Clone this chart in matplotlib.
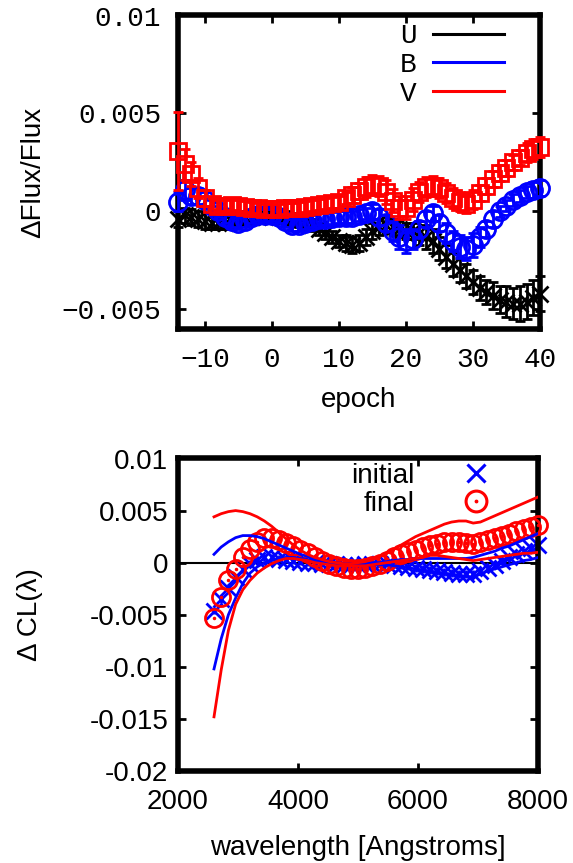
import numpy as np
import matplotlib
matplotlib.use("Agg")
import matplotlib.pyplot as plt
from matplotlib.lines import Line2D

# ---- top panel data: residual light curves (units of 1e-3) ----
epoch = np.arange(-14, 41)

U = [-0.4, -0.2, -0.3, -0.4, -0.5, -0.6, -0.6, -0.6, -0.5, -0.4, -0.3, -0.3, -0.3, -0.3,
     -0.2, -0.2, -0.3, -0.4, -0.5, -0.6, -0.7, -0.9, -1.1, -1.3, -1.5, -1.6, -1.7, -1.6,
     -1.3, -1.0, -0.8, -0.7, -0.8, -0.9, -1.0, -1.0, -1.1, -1.3, -1.5, -1.9, -2.3, -2.7,
     -3.0, -3.3, -3.6, -3.9, -4.1, -4.3, -4.5, -4.6, -4.7, -4.7, -4.6, -4.4, -4.2]
U_err = [0.4, 0.4, 0.4, 0.4, 0.4, 0.3, 0.3, 0.3, 0.3, 0.3, 0.3, 0.3, 0.3, 0.3,
         0.3, 0.3, 0.3, 0.3, 0.3, 0.3, 0.3, 0.3, 0.3, 0.3, 0.3, 0.4, 0.4, 0.4,
         0.4, 0.4, 0.4, 0.4, 0.4, 0.4, 0.4, 0.4, 0.6, 0.6, 0.6, 0.6, 0.6, 0.6,
         0.6, 0.6, 0.6, 0.6, 0.6, 0.7, 0.7, 0.8, 0.8, 0.9, 0.9, 0.9, 0.9]

B = [0.5, 1.1, 0.8, 0.8, 0.6, 0.3, 0.0, -0.3, -0.5, -0.6, -0.5, -0.3, -0.2, -0.2,
     -0.2, -0.3, -0.5, -0.7, -0.7, -0.6, -0.5, -0.4, -0.4, -0.35, -0.3, -0.3, -0.3, -0.2,
     -0.1, 0.0, -0.3, -0.6, -1.0, -1.3, -1.5, -1.4, -0.9, -0.4, -0.1, -0.6, -1.1, -1.5,
     -1.8, -1.9, -1.7, -1.3, -0.9, -0.4, 0.0, 0.3, 0.6, 0.8, 1.0, 1.1, 1.2]
B_err = [0.5, 0.5, 0.4, 0.4, 0.4, 0.3, 0.3, 0.3, 0.3, 0.3, 0.3, 0.3, 0.3, 0.3,
         0.3, 0.3, 0.3, 0.3, 0.3, 0.3, 0.3, 0.3, 0.3, 0.3, 0.3, 0.3, 0.3, 0.3,
         0.3, 0.4, 0.4, 0.4, 0.5, 0.6, 0.6, 0.5, 0.4, 0.4, 0.4, 0.4, 0.5, 0.5,
         0.6, 0.6, 0.6, 0.5, 0.4, 0.4, 0.3, 0.3, 0.3, 0.3, 0.3, 0.4, 0.4]

V = [3.1, 2.4, 1.9, 1.2, 0.7, 0.4, 0.3, 0.3, 0.35, 0.3, 0.25, 0.2, 0.15, 0.1,
     0.1, 0.1, 0.15, 0.15, 0.2, 0.25, 0.3, 0.35, 0.4, 0.45, 0.5, 0.7, 0.85, 1.05,
     1.25, 1.35, 1.3, 1.0, 0.55, 0.2, 0.2, 0.6, 1.0, 1.25, 1.3, 1.2, 0.95, 0.7,
     0.5, 0.4, 0.6, 0.95, 1.3, 1.65, 1.95, 2.2, 2.5, 2.75, 3.0, 3.2, 3.3]
V_err = [2.0, 0.8, 0.6, 0.5, 0.4, 0.3, 0.3, 0.3, 0.3, 0.3, 0.3, 0.3, 0.3, 0.3,
         0.3, 0.3, 0.3, 0.3, 0.3, 0.3, 0.3, 0.3, 0.3, 0.3, 0.3, 0.3, 0.4, 0.4,
         0.5, 0.5, 0.5, 0.6, 0.6, 0.6, 0.6, 0.6, 0.5, 0.5, 0.5, 0.5, 0.5, 0.5,
         0.5, 0.5, 0.5, 0.4, 0.4, 0.4, 0.4, 0.4, 0.4, 0.4, 0.5, 0.5, 0.5]

top_yticks = [-0.005, 0, 0.005, 0.01]
top_yticklabels = ["\u22120.005", "0", "0.005", "0.01"]
top_xticks = [-10, 0, 10, 20, 30, 40]
top_xticklabels = ["\u221210", "0", "10", "20", "30", "40"]

# ---- bottom panel data: color law change (units of 1e-3) ----
wave = np.arange(2600, 8001, 120)

initial = [-4.6, -3.5, -2.4, -1.4, -0.6, -0.1, 0.3, 0.5, 0.5, 0.4, 0.3, 0.2, 0.1, 0.0,
           0.0, -0.1, -0.1, -0.1, -0.2, -0.2, -0.2, -0.1, -0.1, -0.1, -0.1, -0.2, -0.3, -0.4,
           -0.5, -0.6, -0.7, -0.8, -0.9, -1.0, -1.1, -1.1, -1.1, -0.8, -0.5, -0.2, 0.2, 0.5,
           0.8, 1.1, 1.4, 1.7]
final = [-5.3, -3.3, -1.7, -0.6, 0.5, 1.3, 2.0, 2.4, 2.4, 2.2, 1.9, 1.6, 1.2, 0.9,
         0.5, 0.2, -0.1, -0.3, -0.5, -0.6, -0.6, -0.5, -0.3, -0.1, 0.2, 0.5, 0.8, 1.0,
         1.2, 1.5, 1.7, 1.8, 2.0, 2.0, 2.0, 1.9, 1.8, 2.0, 2.2, 2.4, 2.6, 2.8,
         3.0, 3.2, 3.4, 3.6]
blue_hi = [0.8, 1.5, 2.0, 2.4, 2.6, 2.6, 2.5, 2.3, 2.0, 1.7, 1.4, 1.1, 0.8, 0.6,
           0.4, 0.2, 0.1, 0.0, -0.1, -0.1, -0.1, -0.1, 0.0, 0.0, 0.1, 0.2, 0.3, 0.3,
           0.4, 0.4, 0.4, 0.4, 0.4, 0.4, 0.4, 0.4, 0.5, 0.7, 0.9, 1.1, 1.4, 1.6,
           1.9, 2.2, 2.5, 2.8]
blue_lo = [-10.2, -7.3, -5.0, -3.4, -2.0, -1.0, -0.4, 0.0, 0.2, 0.4, 0.5, 0.5, 0.4, 0.3,
           0.2, 0.1, 0.0, -0.1, -0.2, -0.2, -0.2, -0.2, -0.2, -0.2, -0.2, -0.3, -0.4, -0.5,
           -0.6, -0.7, -0.8, -0.9, -1.0, -1.1, -1.2, -1.3, -1.4, -1.1, -0.8, -0.6, -0.4, -0.2,
           0.0, 0.2, 0.3, 0.5]
red_hi = [4.4, 4.7, 4.9, 5.0, 4.9, 4.7, 4.4, 4.0, 3.5, 2.9, 2.3, 1.7, 1.2, 0.8,
          0.5, 0.3, 0.1, 0.0, -0.1, -0.1, 0.0, 0.1, 0.3, 0.6, 0.9, 1.3, 1.7, 2.1,
          2.5, 2.8, 3.1, 3.4, 3.7, 3.9, 4.0, 4.0, 3.8, 3.9, 4.2, 4.5, 4.8, 5.1,
          5.4, 5.7, 6.0, 6.3]
red_lo = [-14.8, -10.3, -6.5, -4.0, -2.6, -1.7, -1.0, -0.5, -0.1, 0.2, 0.4, 0.4, 0.3, 0.2,
          0.0, -0.1, -0.2, -0.3, -0.3, -0.3, -0.3, -0.3, -0.2, -0.1, 0.0, 0.1, 0.2, 0.3,
          0.4, 0.5, 0.7, 0.7, 0.6, 0.5, 0.4, 0.3, 0.2, 0.3, 0.4, 0.5, 0.6, 0.7,
          0.8, 0.9, 0.9, 1.0]

bot_yticks = [-0.02, -0.015, -0.01, -0.005, 0, 0.005, 0.01]
bot_yticklabels = ["-0.02", "-0.015", "-0.01", "-0.005", "0", "0.005", "0.01"]
bot_xticks = [2000, 4000, 6000, 8000]
bot_xticklabels = ["2000", "4000", "6000", "8000"]

sans = "Liberation Sans"
mono = "Liberation Mono"
plt.rcParams["font.family"] = sans

W, H = 573, 863
fig = plt.figure(figsize=(W / 100, H / 100), dpi=100)
ax1 = fig.add_axes([178 / W, 1 - 329 / H, 362 / W, 313.5 / H])
ax2 = fig.add_axes([178 / W, 1 - 771 / H, 360 / W, 312.5 / H])

def style(ax, xpad, ypad):
    for s in ax.spines.values():
        s.set_linewidth(4)
    ax.tick_params(direction="in", top=True, right=True, length=6, width=2, labelsize=20)
    ax.tick_params(axis="x", pad=xpad)
    ax.tick_params(axis="y", pad=ypad)

def unclip(container, z):
    for a in container.get_children():
        a.set_clip_on(False)
        a.set_zorder(z)

# ---- top panel ----
e1 = 1e-3
kw = dict(mew=2, elinewidth=2, capsize=3.5, capthick=2)
c = ax1.errorbar(epoch, np.array(U) * e1, yerr=np.array(U_err) * e1, fmt="x",
                 color="black", ms=12, **kw)
unclip(c, 3)
c = ax1.errorbar(epoch, np.array(B) * e1, yerr=np.array(B_err) * e1, fmt="o",
                 color="blue", mfc="none", ms=13, **kw)
unclip(c, 3.1)
c = ax1.errorbar(epoch, np.array(V) * e1, yerr=np.array(V_err) * e1, fmt="s",
                 color="red", mfc="none", ms=12, **kw)
unclip(c, 3.2)
ax1.set_xlim(-14, 40)
ax1.set_ylim(-0.006, 0.01)
ax1.set_yticks(top_yticks)
ax1.set_yticklabels(top_yticklabels, family=mono)
ax1.set_xticks(top_xticks)
ax1.set_xticklabels(top_xticklabels, family=mono)
style(ax1, 13, 12)
ax1.set_ylabel("\u0394Flux/Flux", fontsize=20)
ax1.set_xlabel("epoch", fontsize=20)
ax1.yaxis.label.set_va("center")
ax1.xaxis.label.set_va("center")
ax1.yaxis.set_label_coords(-0.40, 0.5)
ax1.xaxis.set_label_coords(0.5, -0.225)

h_top = [Line2D([], [], color=col, lw=2.2) for col in ("black", "blue", "red")]
ax1.legend(h_top, ["U", "B", "V"], loc="upper right", bbox_to_anchor=(0.90, 0.975),
           frameon=False, markerfirst=False, handlelength=2.55, handletextpad=0.6,
           labelspacing=0.1, borderpad=0, borderaxespad=0,
           prop={"family": mono, "size": 20})

# ---- bottom panel ----
ax2.axhline(0, color="black", lw=1.5, zorder=1)
c = ax2.errorbar(wave, np.array(initial) * e1, yerr=0.35e-3, fmt="x", color="blue",
                 ms=12, mew=2, elinewidth=2, capsize=0)
unclip(c, 2)
ax2.plot(wave, np.array(final) * e1, "o", color="red", mfc="none", ms=13, mew=2,
         zorder=3, clip_on=False)
ax2.plot(wave, np.array(final) * e1, ".", color="red", ms=3, zorder=3, clip_on=False)
ax2.plot(wave, np.array(blue_hi) * e1, color="blue", lw=2, zorder=4)
ax2.plot(wave, np.array(blue_lo) * e1, color="blue", lw=2, zorder=4)
ax2.plot(wave, np.array(red_hi) * e1, color="red", lw=2, zorder=5)
ax2.plot(wave, np.array(red_lo) * e1, color="red", lw=2, zorder=5)
ax2.set_xlim(2000, 8000)
ax2.set_ylim(-0.02, 0.01)
ax2.set_yticks(bot_yticks)
ax2.set_yticklabels(bot_yticklabels)
ax2.set_xticks(bot_xticks)
ax2.set_xticklabels(bot_xticklabels)
style(ax2, 13, 7)
ax2.set_ylabel("\u0394 CL(\u03bb)", fontsize=20)
ax2.set_xlabel("wavelength [Angstroms]", fontsize=20)
ax2.yaxis.label.set_va("center")
ax2.xaxis.label.set_va("center")
ax2.yaxis.set_label_coords(-0.41, 0.5)
ax2.xaxis.set_label_coords(0.5, -0.245)

h_init = Line2D([], [], marker="x", ls="none", color="blue", ms=13, mew=2.2)
h_fin = (Line2D([], [], marker="o", ls="none", color="red", mfc="none", ms=15, mew=2.2),
         Line2D([], [], marker=".", ls="none", color="red", ms=3.5))
ax2.legend([h_init, h_fin], ["initial", "final"], loc="upper right",
           bbox_to_anchor=(0.905, 0.985), frameon=False, markerfirst=False,
           handlelength=2, handletextpad=1.2, labelspacing=0.05,
           borderpad=0, borderaxespad=0, prop={"family": sans, "size": 20})

fig.savefig("out.png", dpi=100)
